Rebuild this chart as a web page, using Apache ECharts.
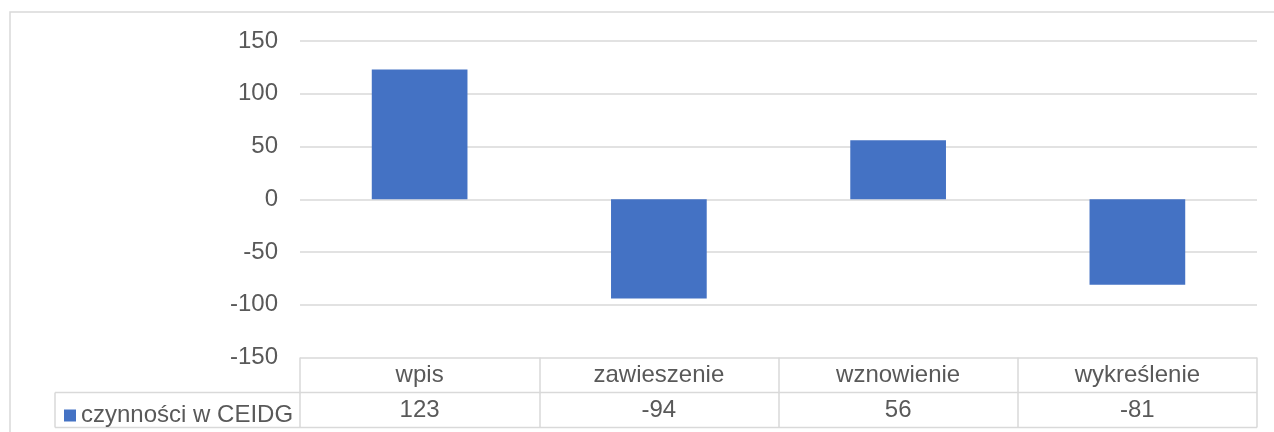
<!DOCTYPE html>
<html>
<head>
<meta charset="utf-8">
<script src="https://cdn.jsdelivr.net/npm/echarts@6/dist/echarts.min.js"></script>
<style>html,body{margin:0;padding:0;background:#fff}#c{width:1274px;height:432px}</style>
</head>
<body>
<div id="c"></div>
<script>
const categories = ['wpis', 'zawieszenie', 'wznowienie', 'wykreślenie'];
const seriesName = 'czynności w CEIDG';
const values = [123, -94, 56, -81];
const yTicks = [-150, -100, -50, 0, 50, 100, 150];

const FONT = 'Liberation Sans, Arial, sans-serif';
const TXT = '#595959';
const LINE = '#d9d9d9';
const FS = 24;
const GL = 300, GR = 17, GT = 41, GB = 74.5;
const ROW = 35;
const W = 1274, H = 432;
const tableTop = H - GB;

const chart = echarts.init(document.getElementById('c'), null, {renderer: 'canvas'});
chart.setOption({
  animation: false,
  textStyle: {fontFamily: FONT},
  grid: {left: GL, right: GR, top: GT, bottom: GB, containLabel: false},
  legend: {
    data: [seriesName], left: 64, top: tableTop + ROW + ROW / 2 - 6.5, itemWidth: 12, itemHeight: 12,
    itemGap: 0, icon: 'rect', padding: 0,
    textStyle: {color: TXT, fontSize: FS, fontFamily: FONT, padding: [0, 0, 0, 0]}
  },
  xAxis: [{
    type: 'category', data: categories, position: 'bottom',
    axisLine: {show: false, onZero: false},
    axisTick: {show: true, length: ROW * 2, lineStyle: {color: LINE, width: 1.5}},
    axisLabel: {color: TXT, fontSize: FS, fontFamily: FONT, margin: ROW / 2, verticalAlign: 'middle'},
    splitLine: {show: false}
  }, {
    type: 'category', data: values.map(String), position: 'bottom', offset: ROW,
    axisLine: {show: false, onZero: false}, axisTick: {show: false},
    axisLabel: {color: TXT, fontSize: FS, fontFamily: FONT, margin: ROW / 2, verticalAlign: 'middle'}
  }],
  yAxis: {
    type: 'value', min: yTicks[0], max: yTicks[yTicks.length - 1], interval: 50,
    axisLine: {show: false}, axisTick: {show: false},
    axisLabel: {color: TXT, fontSize: FS, fontFamily: FONT, margin: 22},
    splitLine: {lineStyle: {color: LINE, width: 1.5}}
  },
  series: [{
    name: seriesName, type: 'bar', data: values, xAxisIndex: 0,
    itemStyle: {color: '#4472C4'}, barWidth: '40%'
  }],
  graphic: [
    {type: 'rect', shape: {x: 10, y: 12, width: W + 20, height: H + 20}, style: {fill: 'none', stroke: LINE, lineWidth: 1.5}, silent: true},
    {type: 'line', shape: {x1: 55, y1: tableTop + ROW, x2: W - GR, y2: tableTop + ROW}, style: {stroke: LINE, lineWidth: 1.5}},
    {type: 'line', shape: {x1: 55, y1: tableTop + 2 * ROW, x2: W - GR, y2: tableTop + 2 * ROW}, style: {stroke: LINE, lineWidth: 1.5}},
    {type: 'line', shape: {x1: 55, y1: tableTop + ROW, x2: 55, y2: tableTop + 2 * ROW}, style: {stroke: LINE, lineWidth: 1.5}}
  ]
});
</script>
</body>
</html>
